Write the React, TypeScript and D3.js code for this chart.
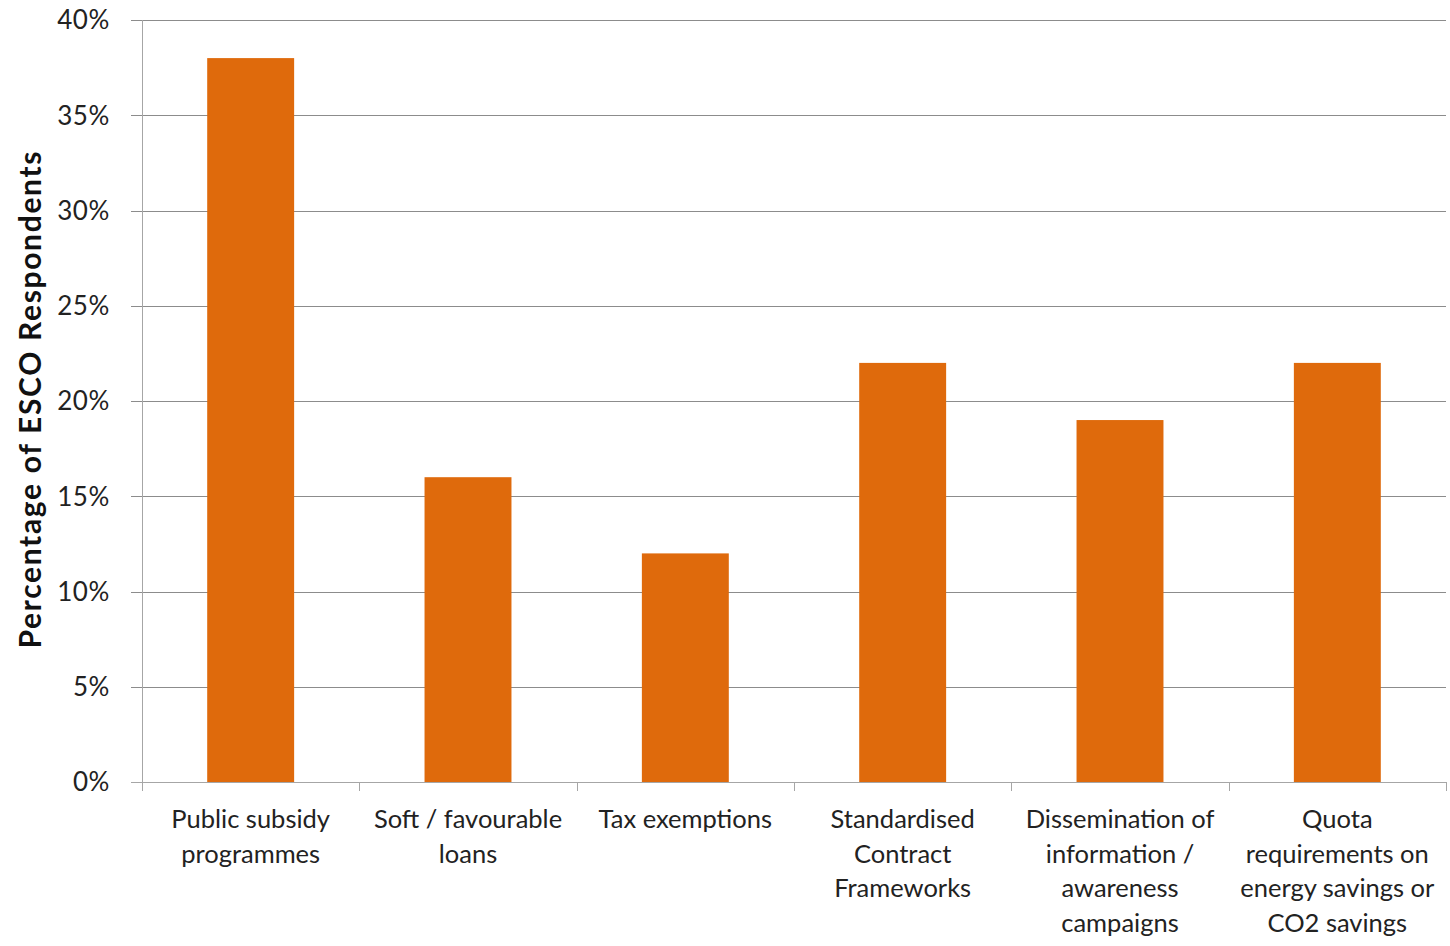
import React from "react";
import * as d3 from "d3";

const categories: string[][] = [
  ["Public subsidy", "programmes"],
  ["Soft / favourable", "loans"],
  ["Tax exemptions"],
  ["Standardised", "Contract", "Frameworks"],
  ["Dissemination of", "information /", "awareness", "campaigns"],
  ["Quota", "requirements on", "energy savings or", "CO2 savings"],
];
const values: number[] = [0.38, 0.16, 0.12, 0.22, 0.19, 0.22];
const yTicks: number[] = [0, 0.05, 0.1, 0.15, 0.2, 0.25, 0.3, 0.35, 0.4];
const yTitle = "Percentage of ESCO Respondents";

const W = 1450;
const H = 946;
const left = 142;
const right = 1446;
const top = 20;
const bottom = 782;
const FONT = "Lato, 'Open Sans', sans-serif";

export default function App() {
  const x = d3
    .scaleBand<number>()
    .domain(d3.range(categories.length))
    .range([left, right])
    .paddingInner(0.6)
    .paddingOuter(0.3);
  const band = (right - left) / categories.length;
  const y = d3.scaleLinear().domain([0, 0.4]).range([bottom, top]);
  const fmt = d3.format(".0%");

  return (
    <svg
      width={W}
      height={H}
      style={{ position: "absolute", left: 0, top: 0, background: "#fff" }}
    >
      {yTicks.map((t) => (
        <g key={t}>
          <line
            x1={131}
            x2={right}
            y1={Math.round(y(t)) + 0.5}
            y2={Math.round(y(t)) + 0.5}
            stroke={t === 0 ? "#a6a6a6" : "#8c8c8c"}
            strokeWidth={1}
          />
          <text
            x={110}
            y={y(t)}
            dy="0.36em"
            textAnchor="end"
            fontFamily={FONT}
            fontSize={26}
            letterSpacing={0.6}
            fill="#222"
          >
            {fmt(t)}
          </text>
        </g>
      ))}
      <line x1={left + 0.5} x2={left + 0.5} y1={top} y2={bottom} stroke="#a6a6a6" />
      {d3.range(categories.length + 1).map((i) => (
        <line
          key={i}
          x1={Math.round(left + i * band) + 0.5}
          x2={Math.round(left + i * band) + 0.5}
          y1={bottom}
          y2={bottom + 9}
          stroke="#a6a6a6"
        />
      ))}
      {values.map((v, i) => (
        <rect
          key={i}
          x={x(i)!}
          y={y(v)}
          width={x.bandwidth()}
          height={bottom - y(v)}
          fill="#df6a0c"
        />
      ))}
      {categories.map((lines, i) => (
        <text
          key={i}
          x={left + (i + 0.5) * band}
          y={828}
          textAnchor="middle"
          fontFamily={FONT}
          fontSize={25.5}
          fill="#222"
        >
          {lines.map((l, j) => (
            <tspan key={j} x={left + (i + 0.5) * band} dy={j === 0 ? 0 : 34.7}>
              {l}
            </tspan>
          ))}
        </text>
      ))}
      <text
        transform={`translate(41, 400) rotate(-90)`}
        textAnchor="middle"
        fontFamily={FONT}
        fontWeight="bold"
        fontSize={30}
        textLength={497}
        lengthAdjust="spacing"
        fill="#111"
      >
        {yTitle}
      </text>
    </svg>
  );
}
